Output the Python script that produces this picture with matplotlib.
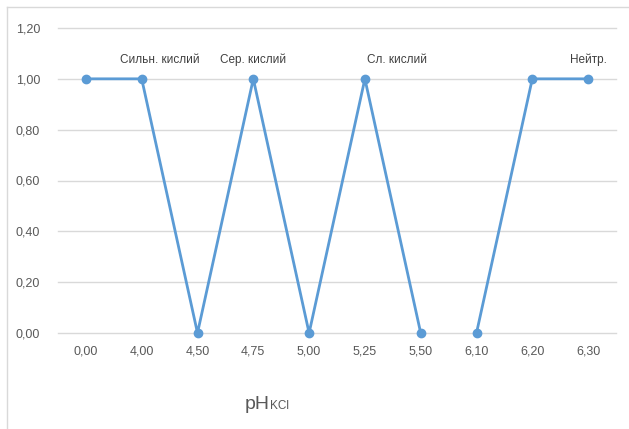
import numpy as np
import matplotlib
matplotlib.use("Agg")
import matplotlib.pyplot as plt
from matplotlib.lines import Line2D

plt.rcParams['font.family'] = ['Liberation Sans Narrow', 'Liberation Sans', 'DejaVu Sans']

categories = ["0,00", "4,00", "4,50", "4,75", "5,00", "5,25", "5,50", "6,10", "6,20", "6,30"]
values = [1, 1, 0, 1, 0, 1, 0, 0, 1, 1]
# the line is broken between these consecutive categories
line_breaks = [7]
point_labels = {1: "Сильн. кислий", 3: "Сер. кислий", 5: "Сл. кислий", 9: "Нейтр."}
label_offsets = {1: (18, 19), 3: (0, 19), 5: (32, 19), 9: (0, 19)}
y_ticks = [0.0, 0.2, 0.4, 0.6, 0.8, 1.0, 1.2]

blue = "#5B9BD5"
grey_text = "#595959"

fig = plt.figure(figsize=(6.29, 4.29), dpi=100)
ax = fig.add_axes([58 / 629, 1 - 333 / 429, (616 - 58) / 629, (333 - 28) / 429])

x = np.arange(len(categories))
y = np.array(values, dtype=float)
for xs, ys in zip(np.split(x, line_breaks), np.split(y, line_breaks)):
    ax.plot(xs, ys, color=blue, lw=2.0, marker="o", ms=6, solid_capstyle="round", zorder=3,
            clip_on=False)

for i, txt in point_labels.items():
    dx, dy = label_offsets[i]
    ax.annotate(txt, (x[i], y[i]), xytext=(dx, dy), textcoords="offset pixels",
                ha="center", va="center", fontsize=8.5, color="#404040")

ax.set_xlim(-0.5, len(categories) - 0.5)
ax.set_ylim(0, 1.2)
ax.set_yticks(y_ticks)
ax.set_yticklabels([f"{v:.2f}".replace(".", ",") for v in y_ticks])
ax.set_xticks(x)
ax.set_xticklabels(categories)
ax.tick_params(axis="both", length=0, colors=grey_text, labelsize=9)
ax.tick_params(axis="y", pad=13)
ax.tick_params(axis="x", pad=9)
ax.grid(axis="y", color="#D9D9D9", lw=1)
for gl in ax.get_ygridlines():
    gl.set_clip_on(False)
ax.set_axisbelow(True)
for s in ax.spines.values():
    s.set_visible(False)

# axis title pH with KCl subscript
fig.text(245 / 629, 1 - 409 / 429, "pH", fontsize=14, color=grey_text, va="baseline", ha="left")
fig.text(270 / 629, 1 - 409 / 429, "KCl", fontsize=8.5, color=grey_text, va="baseline", ha="left")

# outer frame lines (top and left)
fig.add_artist(Line2D([7 / 629, 1], [1 - 7 / 429, 1 - 7 / 429], transform=fig.transFigure,
                      color="#D9D9D9", lw=1))
fig.add_artist(Line2D([7 / 629, 7 / 629], [0, 1 - 7 / 429], transform=fig.transFigure,
                      color="#D9D9D9", lw=1))

fig.savefig("out.png", dpi=100)
